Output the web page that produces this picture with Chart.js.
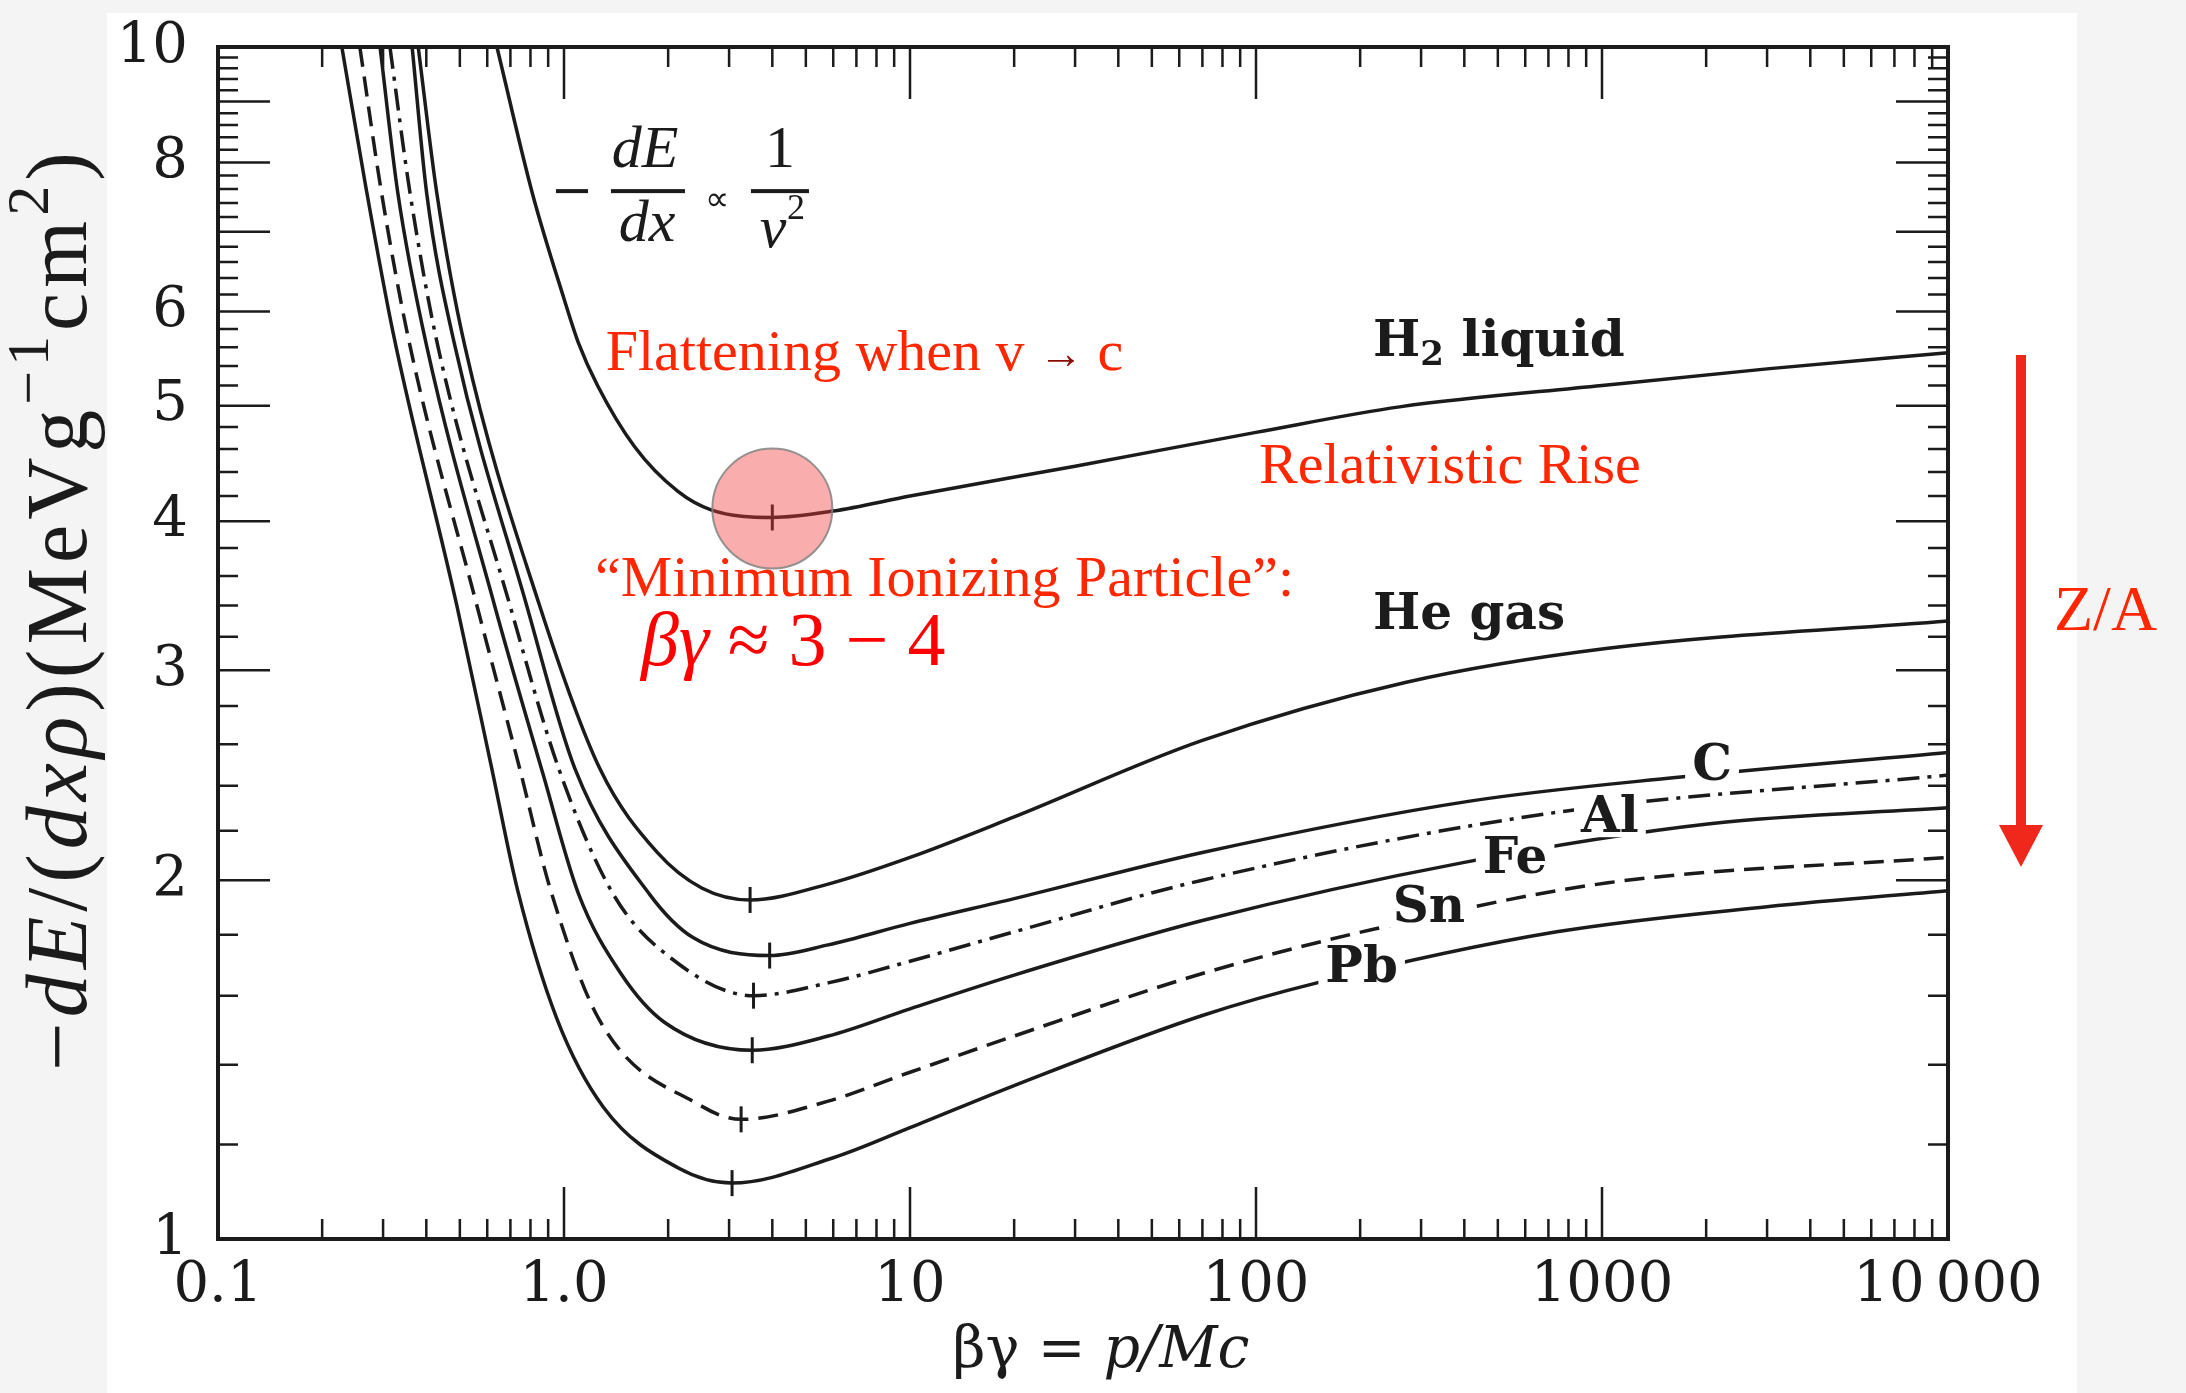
<!DOCTYPE html>
<html>
<head>
<meta charset="utf-8">
<script src="https://cdn.jsdelivr.net/npm/chart.js@4.4.1/dist/chart.umd.min.js"></script>
<style>
  html, body { margin: 0; padding: 0; background: #f4f4f4; }
  canvas { display: block; }
</style>
</head>
<body>
<canvas id="chart" width="2186" height="1393"></canvas>
<script>
// [beta*gamma, -dE/dx in MeV g^-1 cm^2]
const h2Liquid = [[0.64, 10], [0.81, 7.54], [1.0, 6.15], [1.1, 5.65], [1.25, 5.2], [1.6, 4.62], [2.13, 4.24], [2.66, 4.09], [4.0, 4.03], [6, 4.08], [10, 4.2], [30, 4.45], [100, 4.75], [260, 4.99], [1000, 5.2], [3000, 5.37], [10000, 5.54]];
const heGas = [[0.379, 10], [0.429, 7.54], [0.517, 5.61], [0.85, 3.4], [1.27, 2.48], [1.86, 2.11], [2.5, 1.97], [3.45, 1.925], [5.8, 1.985], [10, 2.09], [20, 2.26], [70, 2.62], [270, 2.93], [1040, 3.13], [10000, 3.3]];
const carbon = [[0.364, 10], [0.401, 7.54], [0.484, 5.61], [0.78, 3.4], [1.076, 2.48], [1.77, 1.945], [2.36, 1.79], [3.93, 1.729], [5.8, 1.765], [10, 1.84], [20, 1.93], [70, 2.11], [415, 2.33], [1660, 2.44], [10000, 2.56]];
const aluminium = [[0.314, 10], [0.359, 7.54], [0.432, 5.61], [0.698, 3.4], [0.966, 2.48], [1.39, 1.945], [2.04, 1.72], [3.53, 1.6], [5.8, 1.64], [10, 1.71], [20, 1.81], [70, 2.0], [741, 2.28], [10000, 2.45]];
const iron = [[0.294, 10], [0.331, 7.54], [0.401, 5.61], [0.63, 3.4], [0.868, 2.46], [1.1, 1.95], [1.46, 1.67], [1.95, 1.52], [3.5, 1.44], [5.8, 1.48], [10, 1.56], [20, 1.665], [70, 1.85], [400, 2.07], [2050, 2.23], [10000, 2.3]];
const tin = [[0.257, 10], [0.297, 7.54], [0.359, 5.61], [0.56, 3.4], [0.745, 2.48], [0.911, 1.97], [1.27, 1.524], [2.47, 1.295], [3.25, 1.26], [5.8, 1.305], [10, 1.38], [20, 1.48], [70, 1.67], [220, 1.82], [1040, 1.99], [10000, 2.09]];
const lead = [[0.228, 10], [0.266, 7.7], [0.321, 5.75], [0.49, 3.4], [0.615, 2.5], [0.735, 1.96], [0.954, 1.53], [1.3, 1.29], [2.14, 1.147], [3.06, 1.114], [6, 1.17], [10, 1.24], [20, 1.345], [70, 1.54], [150, 1.64], [740, 1.81], [3000, 1.9], [10000, 1.96]];

// minimum-ionization marks on each curve
const mipBetaGamma = [4.0, 3.45, 3.93, 3.53, 3.5, 3.25, 3.06];
const mipValues = [4.03, 1.925, 1.729, 1.6, 1.44, 1.26, 1.114];

const xTickValues = [0.1, 1, 10, 100, 1000, 10000];
const xTickLabels = ['0.1', '1.0', '10', '100', '1000', '10\u2009000'];
const yTickValues = [1, 2, 3, 4, 5, 6, 8, 10];

const CM = '"Liberation Serif", "Times New Roman", serif';
const CENTURY = '"DejaVu Serif", serif';
const INK = '#1b1b1b';
const RED = '#ff2600';

const toXY = (pts) => pts.map(([x, y]) => ({ x, y }));

function curve(data, dash) {
  return {
    data: toXY(data),
    borderColor: INK,
    borderWidth: 3.5,
    borderDash: dash || [],
    pointRadius: 0,
    cubicInterpolationMode: 'monotone',
    fill: false,
  };
}

function drawRuns(ctx, runs, x, y, align) {
  let total = 0;
  runs.forEach((r) => { ctx.font = r[1]; total += ctx.measureText(r[0]).width; });
  let cx = align === 'center' ? x - total / 2 : x;
  runs.forEach((r) => {
    ctx.font = r[1];
    if (r[3]) ctx.fillStyle = r[3];
    ctx.fillText(r[0], cx, y + (r[2] || 0));
    cx += ctx.measureText(r[0]).width;
  });
  return total;
}

const paper = {
  id: 'paper',
  beforeDraw(chart) {
    const { ctx, width, height } = chart;
    ctx.save();
    ctx.fillStyle = '#f4f4f4';
    ctx.fillRect(0, 0, width, height);
    ctx.fillStyle = '#ffffff';
    ctx.fillRect(107, 13, 1970, height - 13);
    ctx.restore();
  },
  afterDatasetsDraw(chart) {
    const { ctx, chartArea: a, scales: { x, y } } = chart;
    ctx.save();
    ctx.strokeStyle = INK;
    ctx.lineWidth = 2.5;
    ctx.beginPath();
    // x ticks, bottom and top, pointing inward
    for (let d = 0.1; d < 10000; d *= 10) {
      for (let k = 1; k <= 10; k++) {
        const px = x.getPixelForValue(d * k);
        const len = k === 1 || k === 10 ? 52 : 20;
        ctx.moveTo(px, a.bottom); ctx.lineTo(px, a.bottom - len);
        ctx.moveTo(px, a.top); ctx.lineTo(px, a.top + len);
      }
    }
    // y ticks, left and right
    for (let i = 10; i <= 100; i += 2) {
      const py = y.getPixelForValue(i / 10);
      const len = i % 10 === 0 ? 52 : 20;
      ctx.moveTo(a.left, py); ctx.lineTo(a.left + len, py);
      ctx.moveTo(a.right, py); ctx.lineTo(a.right - len, py);
    }
    ctx.stroke();
    ctx.lineWidth = 4;
    ctx.strokeRect(a.left, a.top, a.right - a.left, a.bottom - a.top);

    // pink highlight round the H2 minimum
    ctx.beginPath();
    ctx.arc(x.getPixelForValue(4.0), y.getPixelForValue(4.1), 60, 0, Math.PI * 2);
    ctx.fillStyle = 'rgba(240, 60, 60, 0.42)';
    ctx.fill();
    ctx.lineWidth = 2;
    ctx.strokeStyle = 'rgba(130, 130, 130, 0.85)';
    ctx.stroke();
    ctx.restore();
  },
  afterDraw(chart) {
    const { ctx, chartArea: a, scales: { x, y } } = chart;
    const at = (bg, v) => [x.getPixelForValue(bg), y.getPixelForValue(v)];
    ctx.save();
    ctx.textBaseline = 'middle';
    ctx.textAlign = 'left';

    // axis titles
    ctx.fillStyle = INK;
    const F = 86;
    const up = `${F}px ${CM}`, it = `italic ${F}px ${CM}`, sup = `${Math.round(F * 0.7)}px ${CM}`;
    ctx.save();
    ctx.translate(a.left - 155, (a.top + a.bottom) / 2 - 34);
    ctx.rotate(-Math.PI / 2);
    ctx.letterSpacing = '5px';
    drawRuns(ctx, [['\u2212', up], ['dE', it], ['/(', up], ['dx\u03c1', it], [')(MeVg', up],
      ['\u22121', sup, -F * 0.36], ['cm', up], ['2', sup, -F * 0.36], [')', up]], 0, 0, 'center');
    ctx.restore();

    const xf = `57px ${CENTURY}`, xi = `italic 57px ${CENTURY}`;
    drawRuns(ctx, [['\u03b2\u03b3 = ', xf], ['p/Mc', xi]], (a.left + a.right) / 2 + 18, a.bottom + 113, 'center');

    // -dE/dx ~ 1/v^2
    const [fx, fy] = at(1.714, 7.57);
    ctx.fillRect(fx - 89, fy - 2, 32, 4);
    ctx.fillRect(fx - 34, fy - 2, 74, 4);
    ctx.fillRect(fx + 106, fy - 2, 58, 4);
    ctx.font = `italic 60px ${CM}`;
    ctx.textAlign = 'center';
    ctx.fillText('dE', fx, fy - 40);
    ctx.fillText('dx', fx + 2, fy + 34);
    ctx.font = `60px ${CM}`;
    ctx.fillText('1', fx + 135, fy - 40);
    ctx.font = `34px ${CM}`;
    ctx.fillText('\u221d', fx + 72, fy + 10);
    ctx.font = `italic 60px ${CM}`;
    ctx.fillText('v', fx + 128, fy + 40);
    ctx.font = `36px ${CM}`;
    ctx.fillText('2', fx + 151, fy + 18);
    ctx.textAlign = 'left';

    // red notes
    const rf = `58px ${CM}`;
    let [nx, ny] = at(1.32, 5.52);
    drawRuns(ctx, [['Flattening when v ', rf, 0, RED], ['\u2192', `44px ${CM}`, 2, '#8a0b00'], [' c', rf, 0, RED]], nx, ny, 'left');
    ctx.fillStyle = RED;
    ctx.font = rf;
    [nx, ny] = at(102, 4.44);
    ctx.fillText('Relativistic Rise', nx, ny);
    [nx, ny] = at(1.229, 3.565);
    ctx.fillText('\u201cMinimum Ionizing Particle\u201d:', nx, ny);
    [nx, ny] = at(1.67, 3.15);
    ctx.fillStyle = '#ff0000';
    drawRuns(ctx, [['\u03b2\u03b3', `italic 76px ${CM}`], [' \u2248 3 \u2212 4', `76px ${CM}`]], nx, ny, 'left');

    // curve names
    ctx.fillStyle = INK;
    const lf = `bold 50px ${CENTURY}`;
    [nx, ny] = at(218, 5.65);
    drawRuns(ctx, [['H', lf], ['2', `bold 34px ${CENTURY}`, 14], [' liquid', lf]], nx, ny, 'left');
    [nx, ny] = at(218, 3.33);
    drawRuns(ctx, [['He gas', lf]], nx, ny, 'left');
    const names = [['C', 2080, 2.49], ['Al', 1054, 2.25], ['Fe', 561, 2.08], ['Sn', 316, 1.89], ['Pb', 202, 1.685]];
    ctx.font = lf;
    ctx.textAlign = 'center';
    names.forEach(([t, bg, v]) => {
      const [px, py] = at(bg, v);
      const w = ctx.measureText(t).width + 14;
      ctx.fillStyle = '#ffffff';
      ctx.fillRect(px - w / 2, py - 20, w, 38);
      ctx.fillStyle = INK;
      ctx.fillText(t, px, py);
    });
    ctx.textAlign = 'left';

    // Z/A arrow outside the frame
    const ax = a.right + 73;
    ctx.strokeStyle = '#f0281c';
    ctx.fillStyle = '#f0281c';
    ctx.lineWidth = 10;
    ctx.beginPath();
    ctx.moveTo(ax, a.top + 308);
    ctx.lineTo(ax, a.top + 782);
    ctx.stroke();
    ctx.beginPath();
    ctx.moveTo(ax - 22, a.top + 778);
    ctx.lineTo(ax + 22, a.top + 778);
    ctx.lineTo(ax, a.top + 820);
    ctx.closePath();
    ctx.fill();
    ctx.fillStyle = RED;
    ctx.font = `64px ${CM}`;
    ctx.fillText('Z/A', a.right + 106, a.top + 566);
    ctx.restore();
  },
};

new Chart(document.getElementById('chart'), {
  type: 'line',
  data: {
    datasets: [
      curve(h2Liquid),
      curve(heGas),
      curve(carbon),
      curve(aluminium, [22, 8, 4, 8]),
      curve(iron),
      curve(tin, [20, 10]),
      curve(lead),
      {
        data: mipBetaGamma.map((bg, i) => ({ x: bg, y: mipValues[i] })),
        showLine: false,
        pointStyle: 'line',
        rotation: 90,
        pointRadius: 13,
        pointBorderWidth: 3,
        pointBorderColor: INK,
        borderColor: INK,
      },
    ],
  },
  options: {
    responsive: false,
    animation: false,
    devicePixelRatio: 1,
    layout: { padding: { left: 0, top: 47, right: 238, bottom: 0 } },
    plugins: { legend: { display: false }, tooltip: { enabled: false } },
    scales: {
      x: {
        type: 'logarithmic',
        min: 0.1,
        max: 10000,
        afterBuildTicks: (s) => { s.ticks = xTickValues.map((v) => ({ value: v })); },
        afterFit: (s) => { s.height = 154; },
        ticks: {
          autoSkip: false,
          maxRotation: 0,
          padding: 14,
          color: INK,
          font: { family: CENTURY, size: 56, lineHeight: 1.2 },
          callback: (v, i) => xTickLabels[i],
        },
        grid: { display: false, drawTicks: false },
        border: { display: false },
      },
      y: {
        type: 'logarithmic',
        min: 1,
        max: 10,
        afterBuildTicks: (s) => { s.ticks = yTickValues.map((v) => ({ value: v })); },
        afterFit: (s) => { s.width = 218; },
        ticks: {
          autoSkip: false,
          padding: 30,
          color: INK,
          font: { family: CENTURY, size: 56, lineHeight: 0.5 },
          callback: (v) => String(v),
        },
        grid: { display: false, drawTicks: false },
        border: { display: false },
      },
    },
  },
  plugins: [paper],
});
</script>
</body>
</html>
